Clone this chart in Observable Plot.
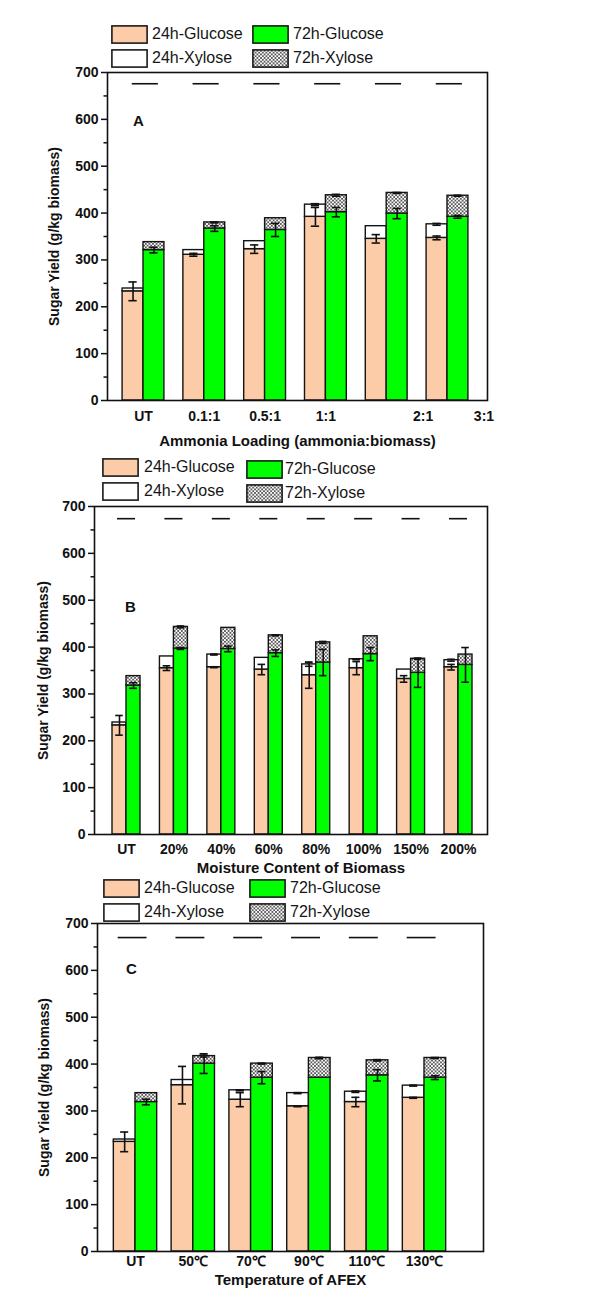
<!DOCTYPE html>
<html><head><meta charset="utf-8">
<script src="https://cdn.jsdelivr.net/npm/d3@7"></script>
<script src="https://cdn.jsdelivr.net/npm/@observablehq/plot@0.6"></script>
<style>
body{margin:0;background:#fff;font-family:"Liberation Sans",Arial,sans-serif;}
#page{position:relative;width:600px;height:1311px;overflow:hidden;background:#fff;}
.panel{position:absolute;left:0;}
.item{position:absolute;display:flex;align-items:center;white-space:nowrap;font-size:16px;color:#151515;height:22px;z-index:3;}
.item svg{display:block;flex:none;}
</style></head><body>
<svg width="0" height="0" style="position:absolute;left:0;top:0">
  <defs>
    <pattern id="hatch" width="3.6" height="3.6" patternUnits="userSpaceOnUse">
      <rect width="3.6" height="3.6" fill="#ffffff"/>
      <path d="M0,0L3.6,3.6M3.6,0L0,3.6" stroke="#5a5a5a" stroke-width="0.9"/>
    </pattern>
  </defs>
</svg>
<div id="page"></div>
<script>
// ---------- data ----------
const legendLabels = ["24h-Glucose", "72h-Glucose", "24h-Xylose", "72h-Xylose"];

// Panel A: ammonia loading
const catsA = ["UT", "0.1:1", "0.5:1", "1:1", "2:1", "3:1"];
const tickPosA = [0, 1, 2, 3, 4.6, 5.6];
const glc24A = [233, 311, 323, 392, 345, 347];
const xyl24A = [6, 10, 17, 26, 27, 29];
const glc72A = [321, 367, 364, 402, 399, 392];
const xyl72A = [17, 13, 25, 36, 44, 45];
const errGlc24A = [20, 3, 9, 20, 9, 4];
const errXyl24A = [0, 0, 0, 2, 0, 2];
const errGlc72A = [6, 6, 14, 10, 11, 3];
const errXyl72A = [0, 1, 0, 2, 1, 1];
const dashA = [676, 676, 676, 676, 676, 676];

// Panel B: moisture content
const catsB = ["UT", "20%", "40%", "60%", "80%", "100%", "150%", "200%"];
const tickPosB = [0, 1, 2, 3, 4, 5, 6, 7];
const glc24B = [233, 355, 357, 352, 340, 355, 332, 357];
const xyl24B = [6, 25, 27, 25, 23, 19, 20, 15];
const glc72B = [318, 397, 396, 387, 367, 385, 345, 362];
const xyl72B = [20, 46, 45, 38, 43, 38, 30, 22];
const errGlc24B = [21, 5, 1, 11, 28, 14, 7, 6];
const errXyl24B = [0, 0, 1, 0, 4, 1, 0, 2];
const errGlc72B = [6, 2, 6, 7, 28, 14, 31, 37];
const errXyl72B = [0, 2, 0, 1, 2, 0, 1, 0];
const dashB = [674, 674, 674, 674, 674, 674, 674, 674];

// Panel C: temperature
const catsC = ["UT", "50\u2103", "70\u2103", "90\u2103", "110\u2103", "130\u2103"];
const tickPosC = [0, 1, 2, 3, 4, 5];
const glc24C = [234, 355, 324, 310, 319, 328];
const xyl24C = [5, 11, 20, 28, 22, 26];
const glc72C = [319, 401, 371, 371, 376, 371];
const xyl72C = [19, 16, 30, 42, 32, 42];
const errGlc24C = [21, 40, 15, 1, 10, 1];
const errXyl24C = [0, 0, 1, 1, 1.5, 1];
const errGlc72C = [6, 21, 13, 0, 12, 4];
const errXyl72C = [0, 2, 1, 1.5, 1.5, 1];
const dashC = [670, 670, 670, 670, 670, 670];

const yTicks = [0, 100, 200, 300, 400, 500, 600, 700];
const yMinor = [50, 150, 250, 350, 450, 550, 650];

// ---------- styles ----------
const fills = {g24: "#fccba8", x24: "#ffffff", g72: "#00ff00", x72: "url(#hatch)"};
const FONT = "Liberation Sans, Arial, Helvetica, sans-serif";

const panels = [
  {letter: "A", cats: catsA, tickPos: tickPosA, g24: glc24A, x24: xyl24A, g72: glc72A, x72: xyl72A,
   eg24: errGlc24A, ex24: errXyl24A, eg72: errGlc72A, ex72: errXyl72A, dash: dashA,
   xTitle: "Ammonia Loading (ammonia:biomass)",
   svgTop: 62, fTop: 72, fBottom: 400, fLeft: 107, fRight: 487, mBottom: 56,
   c0: 143, step: 60.8, barW: 0.344, cap: 0.068, dashHalf: 0.215, dashOff: 0.03,
   tickDy: 16, titleDy: 41, titleDx: 0, yTitleDx: -53, letterDx: 31, letterDy: 49,
   legRows: [34, 58], legSw: [111, 252], legTx: [152, 293], legCol2Dy: 0},
  {letter: "B", cats: catsB, tickPos: tickPosB, g24: glc24B, x24: xyl24B, g72: glc72B, x72: xyl72B,
   eg24: errGlc24B, ex24: errXyl24B, eg72: errGlc72B, ex72: errXyl72B, dash: dashB,
   xTitle: "Moisture Content of Biomass",
   svgTop: 496, fTop: 506, fBottom: 834, fLeft: 94, fRight: 487, mBottom: 46,
   c0: 126, step: 47.43, barW: 0.295, cap: 0.08, dashHalf: 0.19, dashOff: 0,
   tickDy: 15, titleDy: 33.5, titleDx: 10, yTitleDx: -51, letterDx: 36, letterDy: 101,
   legRows: [467, 491], legSw: [102, 246], legTx: [144, 285], legCol2Dy: 2},
  {letter: "C", cats: catsC, tickPos: tickPosC, g24: glc24C, x24: xyl24C, g72: glc72C, x72: xyl72C,
   eg24: errGlc24C, ex24: errXyl24C, eg72: errGlc72C, ex72: errXyl72C, dash: dashC,
   xTitle: "Temperature of AFEX",
   svgTop: 913, fTop: 923, fBottom: 1251, fLeft: 97, fRight: 483, mBottom: 46,
   c0: 135, step: 57.8, barW: 0.375, cap: 0.07, dashHalf: 0.25, dashOff: -0.05,
   tickDy: 10, titleDy: 29, titleDx: 0, yTitleDx: -53, letterDx: 34, letterDy: 46,
   legRows: [888, 912], legSw: [103, 249], legTx: [144, 290], legCol2Dy: 0}
];

const page = document.getElementById("page");

function swatch(key) {
  const ns = "http://www.w3.org/2000/svg";
  const s = document.createElementNS(ns, "svg");
  s.setAttribute("width", 37); s.setAttribute("height", 19);
  const r = document.createElementNS(ns, "rect");
  r.setAttribute("x", 0.9); r.setAttribute("y", 0.9);
  r.setAttribute("width", 35.2); r.setAttribute("height", 17.2);
  r.setAttribute("fill", fills[key]);
  r.setAttribute("stroke", "#1a1a1a"); r.setAttribute("stroke-width", 1.6);
  s.appendChild(r);
  return s;
}

function makeLegend(p) {
  const keys = [["g24", "g72"], ["x24", "x72"]];
  const labels = [[legendLabels[0], legendLabels[1]], [legendLabels[2], legendLabels[3]]];
  keys.forEach((row, r) => {
    row.forEach((k, c) => {
      const it = document.createElement("div");
      it.className = "item";
      it.style.left = p.legSw[c] + "px";
      it.style.top = (p.legRows[r] - 11 + (c === 1 ? p.legCol2Dy : 0)) + "px";
      it.appendChild(swatch(k));
      const t = document.createElement("span");
      t.textContent = labels[r][c];
      t.style.marginLeft = (p.legTx[c] - p.legSw[c] - 37) + "px";
      it.appendChild(t);
      page.appendChild(it);
    });
  });
}

function makePanel(p) {
  const n = p.cats.length;
  const idx = d3.range(n);
  const w = p.barW;
  const segs = [], errs = [];
  idx.forEach(i => {
    const a = p.g24[i], b = a + p.x24[i], c = p.g72[i], d = c + p.x72[i];
    segs.push({s: "g24", x1: i - w, x2: i, y1: 0, y2: a});
    segs.push({s: "x24", x1: i - w, x2: i, y1: a, y2: b});
    segs.push({s: "g72", x1: i, x2: i + w, y1: 0, y2: c});
    segs.push({s: "x72", x1: i, x2: i + w, y1: c, y2: d});
    [[i - w / 2, a, p.eg24[i]], [i - w / 2, b, p.ex24[i]], [i + w / 2, c, p.eg72[i]], [i + w / 2, d, p.ex72[i]]]
      .forEach(([x, y, e]) => { if (e > 0) errs.push({x, y1: y - e, y2: y + e}); });
  });
  const lo = (p.fLeft - p.c0) / p.step, hi = (p.fRight - p.c0) / p.step;
  const marginTop = p.fTop - p.svgTop;
  const height = marginTop + (p.fBottom - p.fTop) + p.mBottom;
  const rectMarks = ["g24", "x24", "g72", "x72"].map(k =>
    Plot.rect(segs.filter(d => d.s === k), {x1: "x1", x2: "x2", y1: "y1", y2: "y2",
      fill: fills[k], stroke: "#141414", strokeWidth: 1.4}));
  const chart = Plot.plot({
    width: 600, height,
    marginLeft: p.fLeft, marginRight: 600 - p.fRight, marginTop, marginBottom: p.mBottom,
    x: {domain: [lo, hi], axis: null},
    y: {domain: [0, 700]},
    style: {fontFamily: FONT, fontSize: "14px", color: "#111", background: "transparent", overflow: "visible"},
    marks: [
      ...rectMarks,
      Plot.ruleX(errs, {x: "x", y1: "y1", y2: "y2", stroke: "#111", strokeWidth: 1.6}),
      Plot.ruleY(errs, {x1: d => d.x - p.cap, x2: d => d.x + p.cap, y: "y1", stroke: "#111", strokeWidth: 1.6}),
      Plot.ruleY(errs, {x1: d => d.x - p.cap, x2: d => d.x + p.cap, y: "y2", stroke: "#111", strokeWidth: 1.6}),
      Plot.ruleY(idx, {x1: i => i - p.dashHalf + p.dashOff, x2: i => i + p.dashHalf + p.dashOff,
        y: i => p.dash[i], stroke: "#111", strokeWidth: 1.6}),
      Plot.frame({stroke: "#111", strokeWidth: 1.6}),
      Plot.axisY({ticks: yTicks, tickSize: 6, tickPadding: 3, fontWeight: "bold", fontSize: 14,
        strokeWidth: 1.5, label: null, tickFormat: d3.format("d")}),
      Plot.axisY({ticks: yMinor, tickSize: 3.5, tickFormat: () => "", strokeWidth: 1.5, label: null}),
      Plot.text(p.cats, {x: (d, i) => p.tickPos[i], frameAnchor: "bottom", dy: p.tickDy,
        lineAnchor: "middle", fontWeight: "bold", fontSize: 14, fill: "#111"}),
      Plot.text([p.xTitle], {frameAnchor: "bottom", dy: p.titleDy, dx: p.titleDx, lineAnchor: "middle",
        fontWeight: "bold", fontSize: 15, fill: "#111"}),
      Plot.text(["Sugar Yield (g/kg biomass)"], {frameAnchor: "left", dx: p.yTitleDx, rotate: -90,
        lineAnchor: "middle", textAnchor: "middle", fontWeight: "bold", fontSize: 14, fill: "#111"}),
      Plot.text([p.letter], {frameAnchor: "top-left", dx: p.letterDx, dy: p.letterDy, textAnchor: "middle",
        lineAnchor: "middle", fontWeight: "bold", fontSize: 15, fill: "#111"})
    ]
  });
  const holder = document.createElement("div");
  holder.className = "panel";
  holder.style.top = p.svgTop + "px";
  holder.appendChild(chart);
  page.appendChild(holder);
}

panels.forEach(p => { makePanel(p); makeLegend(p); });
</script>
</body></html>
